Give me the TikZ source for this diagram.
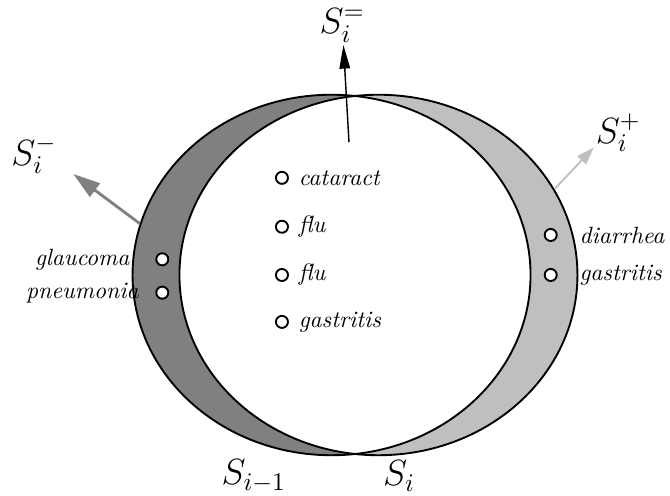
\documentclass[tikz,border=0pt]{standalone}
\usepackage{tikz}
\usetikzlibrary{arrows.meta,shapes.geometric,positioning}

\begin{document}
\begin{tikzpicture}[
    setshape/.style={ellipse, minimum width=5.94cm, minimum height=5.38cm, inner sep=0pt},
    elem/.style={circle, draw, thick, fill=white, minimum size=0.18cm, inner sep=0pt},
    disease/.style={font=\itshape, inner sep=2pt},
    setlab/.style={font=\Large, scale=1.076, transform shape, inner sep=1pt},
    arr/.style={-{Triangle[length=10pt,width=4.5pt]}, semithick}
]
\useasboundingbox (-5.298,-3.284) rectangle (4.701,4.104);

% the two sets, crescents first
\fill[gray] (-0.35,0) ellipse (2.97 and 2.69);
\fill[lightgray] (0.35,0) ellipse (2.97 and 2.69);
\begin{scope}
  \clip (-0.35,0) ellipse (2.97 and 2.69);
  \fill[white] (0.35,0) ellipse (2.97 and 2.69);
\end{scope}
\node[setshape, draw, thick] (prev) at (-0.35,0) {};
\node[setshape, draw, thick] (curr) at (0.35,0) {};

% elements kept
\node[elem] (cat) at (-1.09,1.45) {};
\node[disease, right=2pt of cat] (catl) {cataract};
\node[elem] (flua) at (-1.09,0.72) {};
\node[disease, right=2pt of flua] (flual) {flu};
\node[elem] (flub) at (-1.09,0) {};
\node[disease, right=2pt of flub] (flubl) {flu};
\node[elem] (gasa) at (-1.09,-0.70) {};
\node[disease, right=2pt of gasa] (gasal) {gastritis};

% elements removed
\node[elem] (gla) at (-2.876,0.234) {};
\node[disease] (glal) at (-4.07,0.234) {glaucoma};
\node[elem] (pne) at (-2.876,-0.264) {};
\node[disease] (pnel) at (-4.07,-0.264) {pneumonia};

% elements added
\node[elem] (dia) at (2.921,0.597) {};
\node[disease, right=0.25cm of dia] (dial) {diarrhea};
\node[elem] (gasb) at (2.921,0) {};
\node[disease, right=0.25cm of gasb] (gasbl) {gastritis};

% set labels
\node[setlab] (sminus) at (-4.79,1.79) {$S_i^-$};
\node[setlab] (seq) at (-0.19,3.73) {$S_i^=$};
\node[setlab] (splus) at (3.93,2.12) {$S_i^+$};
\node[setlab] (sprev) at (-1.51,-3.0) {$S_{i-1}$};
\node[setlab] (scurr) at (0.66,-3.0) {$S_i$};

\coordinate (eqfoot) at (-0.09,1.985);
\coordinate (mtip) at (-4.204,1.507);
\coordinate (ptip) at (3.564,1.903);

\draw[arr] (eqfoot) -- (seq);
\draw[arr, gray, very thick, -{Triangle[length=11.5pt,width=7pt]}] (prev.165) -- (mtip);
\draw[arr, lightgray, thick, -{Triangle[length=7.5pt,width=5pt]}] (curr.26) -- (ptip);
\end{tikzpicture}
\end{document}
